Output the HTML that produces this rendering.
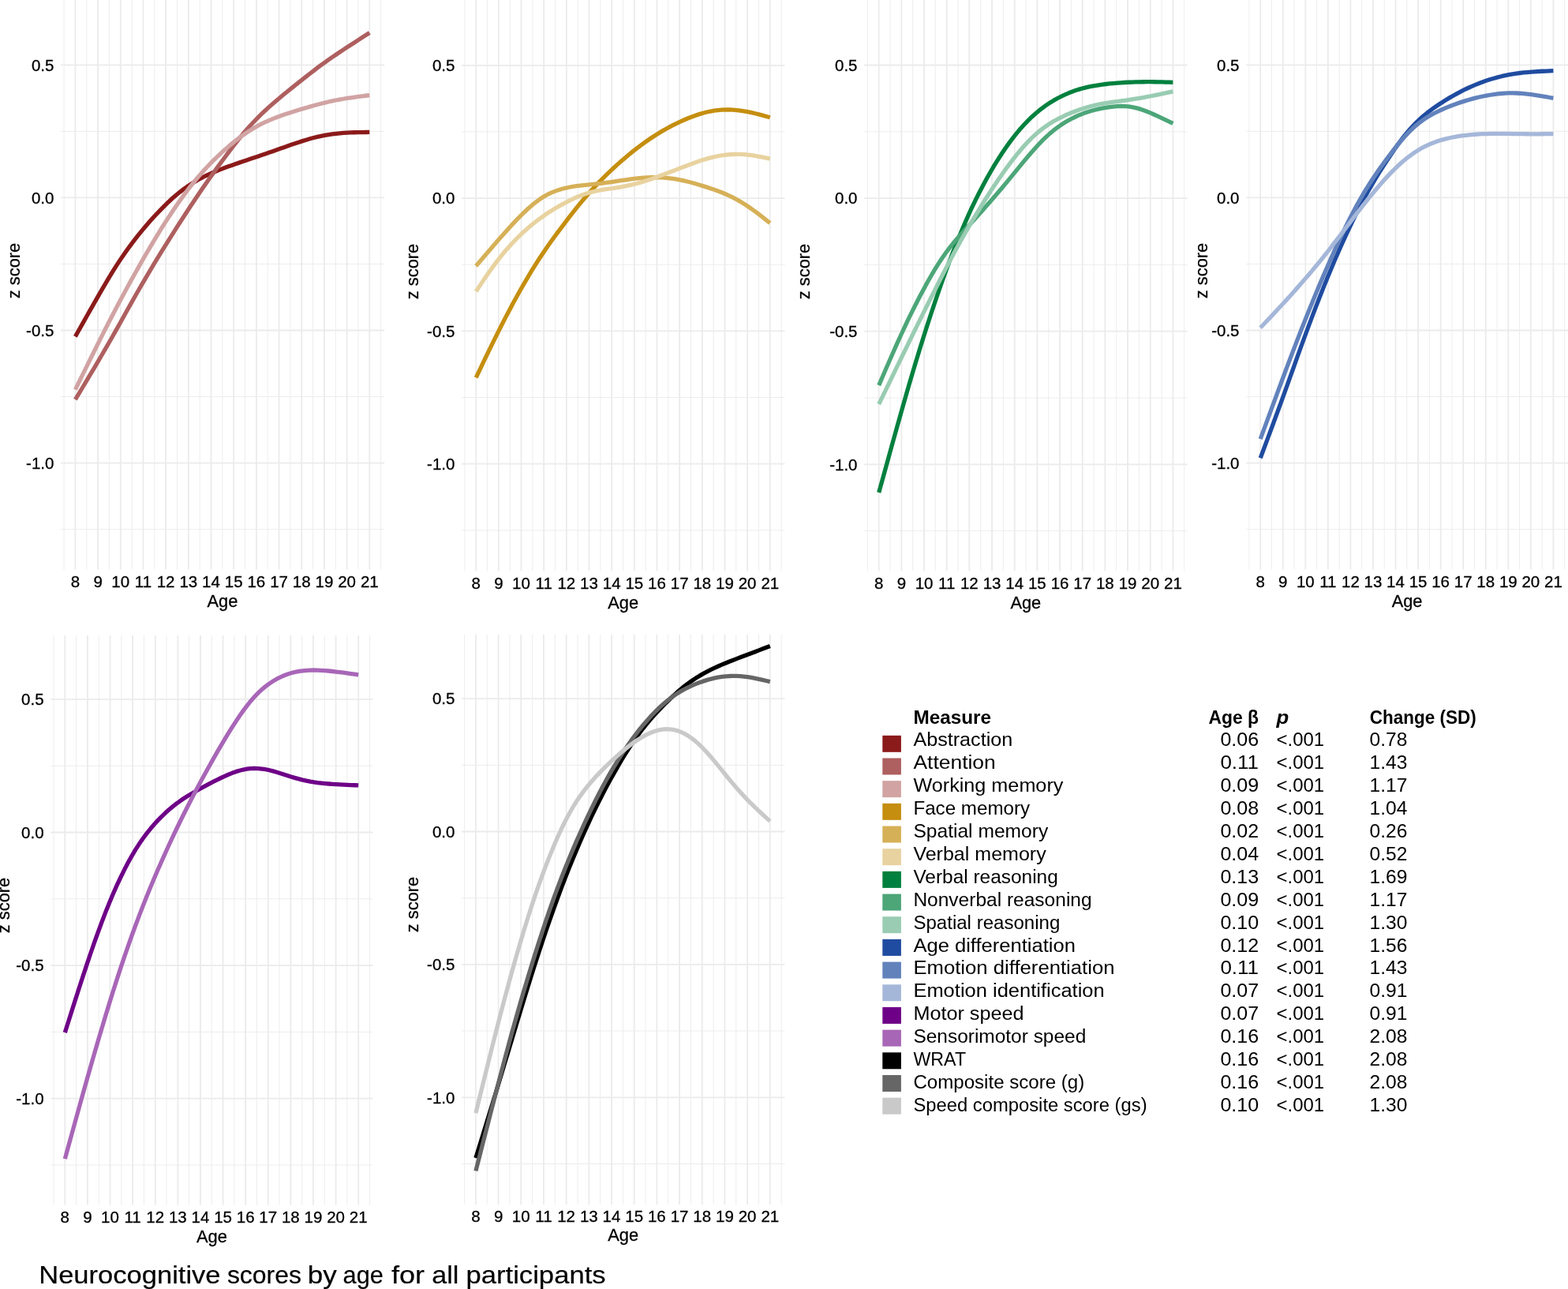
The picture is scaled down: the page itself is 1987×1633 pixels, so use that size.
<!DOCTYPE html>
<html lang="en"><head><meta charset="utf-8"><title>Neurocognitive scores by age for all participants</title>
<style>html,body{margin:0;padding:0;background:#fff}body{width:1987px;height:1633px;overflow:hidden}svg{display:block}text{font-family:'Liberation Sans', Arial, Helvetica, sans-serif;fill:#000}.tk{font-size:20.5px;stroke:#000;stroke-width:.3px}.ti{font-size:21.8px;stroke:#000;stroke-width:.3px}.gM{stroke:#EBEBEB;stroke-width:1.8;fill:none}.gm{stroke:#EBEBEB;stroke-width:0.9;fill:none}.cv{fill:none;stroke-width:5.3;stroke-linejoin:round;stroke-linecap:butt}.lg{font-size:24.2px}.lgb{font-size:24.2px;font-weight:bold}.cap{font-size:31.6px;stroke:#000;stroke-width:.2px}</style></head><body>
<svg xmlns="http://www.w3.org/2000/svg" width="1987" height="1633" viewBox="0 0 1987 1633">
<rect x="0" y="0" width="1987" height="1633" fill="#fff"/>
<g id="p1">
<path class="gm" d="M81.06,0 V721.5 M109.74,0 V721.5 M138.43,0 V721.5 M167.11,0 V721.5 M195.8,0 V721.5 M224.48,0 V721.5 M253.17,0 V721.5 M281.85,0 V721.5 M310.53,0 V721.5 M339.22,0 V721.5 M367.9,0 V721.5 M396.59,0 V721.5 M425.27,0 V721.5 M453.96,0 V721.5 M482.64,0 V721.5 M77,166.35 H487.2 M77,334.45 H487.2 M77,502.55 H487.2 M77,670.65 H487.2"/>
<path class="gM" d="M95.4,0 V721.5 M124.08,0 V721.5 M152.77,0 V721.5 M181.45,0 V721.5 M210.14,0 V721.5 M238.82,0 V721.5 M267.51,0 V721.5 M296.19,0 V721.5 M324.88,0 V721.5 M353.56,0 V721.5 M382.25,0 V721.5 M410.93,0 V721.5 M439.62,0 V721.5 M468.3,0 V721.5 M77,82.3 H487.2 M77,250.4 H487.2 M77,418.5 H487.2 M77,586.6 H487.2"/>
<path class="cv" stroke="#8B1A1A" d="M95.4,426.41 L100.12,418.01 L104.84,409.62 L109.56,401.25 L114.28,392.91 L119,384.6 L123.72,376.35 L128.44,368.17 L133.16,360.09 L137.88,352.16 L142.6,344.42 L147.32,336.9 L152.04,329.66 L156.76,322.7 L161.48,316 L166.2,309.56 L170.92,303.35 L175.64,297.36 L180.36,291.57 L185.08,285.99 L189.81,280.59 L194.53,275.35 L199.25,270.25 L203.97,265.3 L208.69,260.52 L213.41,255.93 L218.13,251.57 L222.85,247.44 L227.57,243.56 L232.29,239.93 L237.01,236.53 L241.73,233.36 L246.45,230.4 L251.17,227.66 L255.89,225.11 L260.61,222.75 L265.33,220.55 L270.05,218.47 L274.77,216.49 L279.49,214.6 L284.21,212.8 L288.93,211.06 L293.65,209.38 L298.37,207.73 L303.09,206.12 L307.81,204.53 L312.53,202.95 L317.25,201.36 L321.97,199.77 L326.69,198.17 L331.41,196.56 L336.13,194.94 L340.85,193.3 L345.57,191.64 L350.29,189.98 L355.01,188.31 L359.73,186.64 L364.45,184.98 L369.17,183.34 L373.89,181.72 L378.62,180.15 L383.34,178.63 L388.06,177.18 L392.78,175.81 L397.5,174.54 L402.22,173.39 L406.94,172.36 L411.66,171.45 L416.38,170.64 L421.1,169.94 L425.82,169.35 L430.54,168.86 L435.26,168.47 L439.98,168.15 L444.7,167.92 L449.42,167.74 L454.14,167.62 L458.86,167.54 L463.58,167.49 L468.3,167.45"/>
<path class="cv" stroke="#AE5F5F" d="M95.4,506.23 L100.12,498.38 L104.84,490.51 L109.56,482.63 L114.28,474.72 L119,466.78 L123.72,458.79 L128.44,450.75 L133.16,442.66 L137.88,434.49 L142.6,426.24 L147.32,417.91 L152.04,409.49 L156.76,401.01 L161.48,392.53 L166.2,384.09 L170.92,375.74 L175.64,367.49 L180.36,359.34 L185.08,351.29 L189.81,343.33 L194.53,335.47 L199.25,327.69 L203.97,319.99 L208.69,312.36 L213.41,304.81 L218.13,297.32 L222.85,289.89 L227.57,282.53 L232.29,275.23 L237.01,267.98 L241.73,260.79 L246.45,253.68 L251.17,246.67 L255.89,239.76 L260.61,232.96 L265.33,226.25 L270.05,219.62 L274.77,213.07 L279.49,206.6 L284.21,200.2 L288.93,193.87 L293.65,187.63 L298.37,181.51 L303.09,175.55 L307.81,169.79 L312.53,164.27 L317.25,158.99 L321.97,153.94 L326.69,149.1 L331.41,144.44 L336.13,139.97 L340.85,135.64 L345.57,131.46 L350.29,127.4 L355.01,123.43 L359.73,119.54 L364.45,115.7 L369.17,111.91 L373.89,108.15 L378.62,104.41 L383.34,100.68 L388.06,96.95 L392.78,93.24 L397.5,89.57 L402.22,85.97 L406.94,82.45 L411.66,79.03 L416.38,75.69 L421.1,72.42 L425.82,69.21 L430.54,66.03 L435.26,62.9 L439.98,59.79 L444.7,56.72 L449.42,53.66 L454.14,50.63 L458.86,47.6 L463.58,44.59 L468.3,41.58"/>
<path class="cv" stroke="#D1A3A3" d="M95.4,493.66 L100.12,484.03 L104.84,474.42 L109.56,464.82 L114.28,455.26 L119,445.75 L123.72,436.28 L128.44,426.89 L133.16,417.57 L137.88,408.33 L142.6,399.19 L147.32,390.15 L152.04,381.22 L156.76,372.4 L161.48,363.71 L166.2,355.14 L170.92,346.68 L175.64,338.33 L180.36,330.06 L185.08,321.9 L189.81,313.85 L194.53,305.91 L199.25,298.11 L203.97,290.45 L208.69,282.94 L213.41,275.6 L218.13,268.44 L222.85,261.46 L227.57,254.69 L232.29,248.13 L237.01,241.78 L241.73,235.66 L246.45,229.78 L251.17,224.13 L255.89,218.71 L260.61,213.51 L265.33,208.52 L270.05,203.71 L274.77,199.07 L279.49,194.59 L284.21,190.27 L288.93,186.12 L293.65,182.13 L298.37,178.31 L303.09,174.67 L307.81,171.23 L312.53,167.97 L317.25,164.92 L321.97,162.07 L326.69,159.42 L331.41,156.97 L336.13,154.7 L340.85,152.58 L345.57,150.61 L350.29,148.75 L355.01,147 L359.73,145.33 L364.45,143.74 L369.17,142.2 L373.89,140.72 L378.62,139.28 L383.34,137.87 L388.06,136.49 L392.78,135.13 L397.5,133.8 L402.22,132.52 L406.94,131.29 L411.66,130.11 L416.38,129 L421.1,127.95 L425.82,126.97 L430.54,126.08 L435.26,125.25 L439.98,124.48 L444.7,123.77 L449.42,123.09 L454.14,122.46 L458.86,121.85 L463.58,121.25 L468.3,120.67"/>
<text class="tk" x="95.4" y="744.2" text-anchor="middle">8</text>
<text class="tk" x="124.08" y="744.2" text-anchor="middle">9</text>
<text class="tk" x="152.77" y="744.2" text-anchor="middle">10</text>
<text class="tk" x="181.45" y="744.2" text-anchor="middle">11</text>
<text class="tk" x="210.14" y="744.2" text-anchor="middle">12</text>
<text class="tk" x="238.82" y="744.2" text-anchor="middle">13</text>
<text class="tk" x="267.51" y="744.2" text-anchor="middle">14</text>
<text class="tk" x="296.19" y="744.2" text-anchor="middle">15</text>
<text class="tk" x="324.88" y="744.2" text-anchor="middle">16</text>
<text class="tk" x="353.56" y="744.2" text-anchor="middle">17</text>
<text class="tk" x="382.25" y="744.2" text-anchor="middle">18</text>
<text class="tk" x="410.93" y="744.2" text-anchor="middle">19</text>
<text class="tk" x="439.62" y="744.2" text-anchor="middle">20</text>
<text class="tk" x="468.3" y="744.2" text-anchor="middle">21</text>
<text class="tk" x="68.4" y="89.6" text-anchor="end">0.5</text>
<text class="tk" x="68.4" y="257.7" text-anchor="end">0.0</text>
<text class="tk" x="68.4" y="425.8" text-anchor="end">-0.5</text>
<text class="tk" x="68.4" y="593.9" text-anchor="end">-1.0</text>
<text class="ti" x="281.97" y="768.7" text-anchor="middle">Age</text>
<text class="ti" transform="translate(24.5,343) rotate(-90)" text-anchor="middle">z score</text>
</g>
<g id="p2">
<path class="gm" d="M588.87,0 V723.5 M617.53,0 V723.5 M646.19,0 V723.5 M674.85,0 V723.5 M703.52,0 V723.5 M732.18,0 V723.5 M760.84,0 V723.5 M789.5,0 V723.5 M818.16,0 V723.5 M846.82,0 V723.5 M875.48,0 V723.5 M904.15,0 V723.5 M932.81,0 V723.5 M961.47,0 V723.5 M990.13,0 V723.5 M585,166.95 H994.5 M585,335.25 H994.5 M585,503.55 H994.5 M585,671.85 H994.5"/>
<path class="gM" d="M603.2,0 V723.5 M631.86,0 V723.5 M660.52,0 V723.5 M689.18,0 V723.5 M717.85,0 V723.5 M746.51,0 V723.5 M775.17,0 V723.5 M803.83,0 V723.5 M832.49,0 V723.5 M861.15,0 V723.5 M889.82,0 V723.5 M918.48,0 V723.5 M947.14,0 V723.5 M975.8,0 V723.5 M585,82.8 H994.5 M585,251.1 H994.5 M585,419.4 H994.5 M585,587.7 H994.5"/>
<path class="cv" stroke="#C58E0F" d="M603.2,478.4 L607.92,468.53 L612.63,458.68 L617.35,448.89 L622.07,439.18 L626.78,429.57 L631.5,420.1 L636.22,410.78 L640.93,401.63 L645.65,392.65 L650.36,383.84 L655.08,375.23 L659.8,366.8 L664.51,358.57 L669.23,350.55 L673.95,342.74 L678.66,335.15 L683.38,327.8 L688.1,320.67 L692.81,313.75 L697.53,307.04 L702.25,300.49 L706.96,294.09 L711.68,287.8 L716.39,281.6 L721.11,275.47 L725.83,269.41 L730.54,263.45 L735.26,257.63 L739.98,251.97 L744.69,246.5 L749.41,241.22 L754.13,236.11 L758.84,231.15 L763.56,226.35 L768.28,221.68 L772.99,217.15 L777.71,212.72 L782.43,208.41 L787.14,204.22 L791.86,200.14 L796.57,196.18 L801.29,192.34 L806.01,188.63 L810.72,185.05 L815.44,181.59 L820.16,178.24 L824.87,175.02 L829.59,171.92 L834.31,168.95 L839.02,166.12 L843.74,163.43 L848.46,160.87 L853.17,158.44 L857.89,156.12 L862.61,153.9 L867.32,151.78 L872.04,149.79 L876.75,147.92 L881.47,146.19 L886.19,144.63 L890.9,143.24 L895.62,142.03 L900.34,141.02 L905.05,140.21 L909.77,139.6 L914.49,139.2 L919.2,139.01 L923.92,139.01 L928.64,139.2 L933.35,139.57 L938.07,140.11 L942.78,140.8 L947.5,141.64 L952.22,142.62 L956.93,143.71 L961.65,144.89 L966.37,146.15 L971.08,147.47 L975.8,148.8"/>
<path class="cv" stroke="#D6B057" d="M603.2,336.97 L607.92,331.45 L612.63,325.93 L617.35,320.43 L622.07,314.95 L626.78,309.5 L631.5,304.09 L636.22,298.73 L640.93,293.43 L645.65,288.22 L650.36,283.12 L655.08,278.16 L659.8,273.34 L664.51,268.71 L669.23,264.3 L673.95,260.14 L678.66,256.29 L683.38,252.78 L688.1,249.67 L692.81,246.96 L697.53,244.62 L702.25,242.63 L706.96,240.93 L711.68,239.5 L716.39,238.29 L721.11,237.26 L725.83,236.39 L730.54,235.67 L735.26,235.06 L739.98,234.53 L744.69,234.05 L749.41,233.58 L754.13,233.11 L758.84,232.6 L763.56,232.06 L768.28,231.47 L772.99,230.85 L777.71,230.18 L782.43,229.47 L787.14,228.74 L791.86,228.02 L796.57,227.33 L801.29,226.68 L806.01,226.11 L810.72,225.62 L815.44,225.22 L820.16,224.92 L824.87,224.74 L829.59,224.68 L834.31,224.75 L839.02,224.96 L843.74,225.31 L848.46,225.79 L853.17,226.41 L857.89,227.17 L862.61,228.07 L867.32,229.1 L872.04,230.24 L876.75,231.49 L881.47,232.81 L886.19,234.2 L890.9,235.64 L895.62,237.13 L900.34,238.67 L905.05,240.28 L909.77,241.99 L914.49,243.82 L919.2,245.77 L923.92,247.88 L928.64,250.16 L933.35,252.64 L938.07,255.34 L942.78,258.23 L947.5,261.3 L952.22,264.54 L956.93,267.93 L961.65,271.46 L966.37,275.11 L971.08,278.85 L975.8,282.64"/>
<path class="cv" stroke="#E8D29F" d="M603.2,369.25 L607.92,362.15 L612.63,355.12 L617.35,348.22 L622.07,341.52 L626.78,335.07 L631.5,328.88 L636.22,322.96 L640.93,317.31 L645.65,311.93 L650.36,306.8 L655.08,301.92 L659.8,297.29 L664.51,292.89 L669.23,288.72 L673.95,284.75 L678.66,280.99 L683.38,277.42 L688.1,274.03 L692.81,270.8 L697.53,267.73 L702.25,264.81 L706.96,262.03 L711.68,259.37 L716.39,256.82 L721.11,254.39 L725.83,252.08 L730.54,249.95 L735.26,248.01 L739.98,246.26 L744.69,244.72 L749.41,243.37 L754.13,242.22 L758.84,241.26 L763.56,240.43 L768.28,239.69 L772.99,239 L777.71,238.3 L782.43,237.57 L787.14,236.77 L791.86,235.91 L796.57,234.96 L801.29,233.9 L806.01,232.72 L810.72,231.41 L815.44,229.99 L820.16,228.48 L824.87,226.89 L829.59,225.24 L834.31,223.54 L839.02,221.8 L843.74,220.03 L848.46,218.24 L853.17,216.43 L857.89,214.61 L862.61,212.78 L867.32,210.96 L872.04,209.17 L876.75,207.42 L881.47,205.72 L886.19,204.11 L890.9,202.59 L895.62,201.18 L900.34,199.9 L905.05,198.75 L909.77,197.75 L914.49,196.92 L919.2,196.25 L923.92,195.77 L928.64,195.48 L933.35,195.37 L938.07,195.45 L942.78,195.71 L947.5,196.15 L952.22,196.74 L956.93,197.46 L961.65,198.3 L966.37,199.22 L971.08,200.19 L975.8,201.2"/>
<text class="tk" x="603.2" y="746.1" text-anchor="middle">8</text>
<text class="tk" x="631.86" y="746.1" text-anchor="middle">9</text>
<text class="tk" x="660.52" y="746.1" text-anchor="middle">10</text>
<text class="tk" x="689.18" y="746.1" text-anchor="middle">11</text>
<text class="tk" x="717.85" y="746.1" text-anchor="middle">12</text>
<text class="tk" x="746.51" y="746.1" text-anchor="middle">13</text>
<text class="tk" x="775.17" y="746.1" text-anchor="middle">14</text>
<text class="tk" x="803.83" y="746.1" text-anchor="middle">15</text>
<text class="tk" x="832.49" y="746.1" text-anchor="middle">16</text>
<text class="tk" x="861.15" y="746.1" text-anchor="middle">17</text>
<text class="tk" x="889.82" y="746.1" text-anchor="middle">18</text>
<text class="tk" x="918.48" y="746.1" text-anchor="middle">19</text>
<text class="tk" x="947.14" y="746.1" text-anchor="middle">20</text>
<text class="tk" x="975.8" y="746.1" text-anchor="middle">21</text>
<text class="tk" x="576.4" y="90.1" text-anchor="end">0.5</text>
<text class="tk" x="576.4" y="258.4" text-anchor="end">0.0</text>
<text class="tk" x="576.4" y="426.7" text-anchor="end">-0.5</text>
<text class="tk" x="576.4" y="595" text-anchor="end">-1.0</text>
<text class="ti" x="789.71" y="770.8" text-anchor="middle">Age</text>
<text class="ti" transform="translate(530,344) rotate(-90)" text-anchor="middle">z score</text>
</g>
<g id="p3">
<path class="gm" d="M1099.37,0 V723.5 M1128.03,0 V723.5 M1156.7,0 V723.5 M1185.37,0 V723.5 M1214.04,0 V723.5 M1242.71,0 V723.5 M1271.38,0 V723.5 M1300.05,0 V723.5 M1328.72,0 V723.5 M1357.39,0 V723.5 M1386.06,0 V723.5 M1414.73,0 V723.5 M1443.4,0 V723.5 M1472.07,0 V723.5 M1500.73,0 V723.5 M1095.1,166.8 H1504.6 M1095.1,335.4 H1504.6 M1095.1,504 H1504.6 M1095.1,672.6 H1504.6"/>
<path class="gM" d="M1113.7,0 V723.5 M1142.37,0 V723.5 M1171.04,0 V723.5 M1199.71,0 V723.5 M1228.38,0 V723.5 M1257.05,0 V723.5 M1285.72,0 V723.5 M1314.38,0 V723.5 M1343.05,0 V723.5 M1371.72,0 V723.5 M1400.39,0 V723.5 M1429.06,0 V723.5 M1457.73,0 V723.5 M1486.4,0 V723.5 M1095.1,82.5 H1504.6 M1095.1,251.1 H1504.6 M1095.1,419.7 H1504.6 M1095.1,588.3 H1504.6"/>
<path class="cv" stroke="#00803E" d="M1113.7,624 L1118.42,606.96 L1123.14,589.93 L1127.85,572.89 L1132.57,555.89 L1137.29,538.99 L1142.01,522.23 L1146.72,505.66 L1151.44,489.33 L1156.16,473.28 L1160.88,457.52 L1165.59,442.07 L1170.31,426.94 L1175.03,412.15 L1179.75,397.71 L1184.47,383.61 L1189.18,369.84 L1193.9,356.4 L1198.62,343.3 L1203.34,330.59 L1208.05,318.28 L1212.77,306.39 L1217.49,294.91 L1222.21,283.84 L1226.93,273.19 L1231.64,262.95 L1236.36,253.13 L1241.08,243.72 L1245.8,234.71 L1250.51,226.05 L1255.23,217.72 L1259.95,209.72 L1264.67,202.06 L1269.38,194.73 L1274.1,187.74 L1278.82,181.1 L1283.54,174.79 L1288.26,168.84 L1292.97,163.23 L1297.69,157.97 L1302.41,153.05 L1307.13,148.45 L1311.84,144.17 L1316.56,140.2 L1321.28,136.54 L1326,133.15 L1330.72,130.03 L1335.43,127.15 L1340.15,124.51 L1344.87,122.08 L1349.59,119.86 L1354.3,117.83 L1359.02,115.99 L1363.74,114.34 L1368.46,112.86 L1373.17,111.56 L1377.89,110.41 L1382.61,109.41 L1387.33,108.54 L1392.05,107.77 L1396.76,107.1 L1401.48,106.5 L1406.2,105.98 L1410.92,105.53 L1415.63,105.13 L1420.35,104.8 L1425.07,104.51 L1429.79,104.27 L1434.51,104.08 L1439.22,103.93 L1443.94,103.82 L1448.66,103.74 L1453.38,103.71 L1458.09,103.71 L1462.81,103.75 L1467.53,103.82 L1472.25,103.91 L1476.96,104.03 L1481.68,104.15 L1486.4,104.28"/>
<path class="cv" stroke="#4CA678" d="M1113.7,488.16 L1118.42,477.2 L1123.14,466.28 L1127.85,455.44 L1132.57,444.72 L1137.29,434.15 L1142.01,423.77 L1146.72,413.63 L1151.44,403.73 L1156.16,394.09 L1160.88,384.69 L1165.59,375.55 L1170.31,366.67 L1175.03,358.06 L1179.75,349.72 L1184.47,341.72 L1189.18,334.11 L1193.9,326.95 L1198.62,320.23 L1203.34,313.95 L1208.05,308.04 L1212.77,302.44 L1217.49,297.06 L1222.21,291.83 L1226.93,286.66 L1231.64,281.48 L1236.36,276.26 L1241.08,271 L1245.8,265.69 L1250.51,260.35 L1255.23,254.95 L1259.95,249.51 L1264.67,244.02 L1269.38,238.47 L1274.1,232.86 L1278.82,227.17 L1283.54,221.43 L1288.26,215.65 L1292.97,209.88 L1297.69,204.17 L1302.41,198.54 L1307.13,193.04 L1311.84,187.71 L1316.56,182.58 L1321.28,177.71 L1326,173.12 L1330.72,168.87 L1335.43,164.96 L1340.15,161.37 L1344.87,158.08 L1349.59,155.06 L1354.3,152.29 L1359.02,149.78 L1363.74,147.5 L1368.46,145.44 L1373.17,143.61 L1377.89,141.98 L1382.61,140.54 L1387.33,139.27 L1392.05,138.15 L1396.76,137.17 L1401.48,136.31 L1406.2,135.59 L1410.92,135.02 L1415.63,134.64 L1420.35,134.48 L1425.07,134.58 L1429.79,134.97 L1434.51,135.65 L1439.22,136.61 L1443.94,137.87 L1448.66,139.41 L1453.38,141.18 L1458.09,143.13 L1462.81,145.22 L1467.53,147.4 L1472.25,149.64 L1476.96,151.9 L1481.68,154.18 L1486.4,156.47"/>
<path class="cv" stroke="#99CCB2" d="M1113.7,512.02 L1118.42,502.32 L1123.14,492.62 L1127.85,482.9 L1132.57,473.18 L1137.29,463.46 L1142.01,453.75 L1146.72,444.06 L1151.44,434.39 L1156.16,424.75 L1160.88,415.15 L1165.59,405.59 L1170.31,396.08 L1175.03,386.61 L1179.75,377.2 L1184.47,367.83 L1189.18,358.51 L1193.9,349.26 L1198.62,340.11 L1203.34,331.11 L1208.05,322.27 L1212.77,313.59 L1217.49,305.07 L1222.21,296.71 L1226.93,288.5 L1231.64,280.45 L1236.36,272.55 L1241.08,264.8 L1245.8,257.2 L1250.51,249.74 L1255.23,242.43 L1259.95,235.28 L1264.67,228.28 L1269.38,221.45 L1274.1,214.8 L1278.82,208.35 L1283.54,202.13 L1288.26,196.16 L1292.97,190.45 L1297.69,185.02 L1302.41,179.9 L1307.13,175.11 L1311.84,170.66 L1316.56,166.58 L1321.28,162.86 L1326,159.48 L1330.72,156.39 L1335.43,153.55 L1340.15,150.95 L1344.87,148.53 L1349.59,146.28 L1354.3,144.18 L1359.02,142.23 L1363.74,140.42 L1368.46,138.75 L1373.17,137.21 L1377.89,135.8 L1382.61,134.5 L1387.33,133.33 L1392.05,132.28 L1396.76,131.34 L1401.48,130.52 L1406.2,129.8 L1410.92,129.14 L1415.63,128.53 L1420.35,127.93 L1425.07,127.32 L1429.79,126.67 L1434.51,125.97 L1439.22,125.21 L1443.94,124.41 L1448.66,123.56 L1453.38,122.67 L1458.09,121.75 L1462.81,120.8 L1467.53,119.83 L1472.25,118.84 L1476.96,117.84 L1481.68,116.83 L1486.4,115.82"/>
<text class="tk" x="1113.7" y="746.1" text-anchor="middle">8</text>
<text class="tk" x="1142.37" y="746.1" text-anchor="middle">9</text>
<text class="tk" x="1171.04" y="746.1" text-anchor="middle">10</text>
<text class="tk" x="1199.71" y="746.1" text-anchor="middle">11</text>
<text class="tk" x="1228.38" y="746.1" text-anchor="middle">12</text>
<text class="tk" x="1257.05" y="746.1" text-anchor="middle">13</text>
<text class="tk" x="1285.72" y="746.1" text-anchor="middle">14</text>
<text class="tk" x="1314.38" y="746.1" text-anchor="middle">15</text>
<text class="tk" x="1343.05" y="746.1" text-anchor="middle">16</text>
<text class="tk" x="1371.72" y="746.1" text-anchor="middle">17</text>
<text class="tk" x="1400.39" y="746.1" text-anchor="middle">18</text>
<text class="tk" x="1429.06" y="746.1" text-anchor="middle">19</text>
<text class="tk" x="1457.73" y="746.1" text-anchor="middle">20</text>
<text class="tk" x="1486.4" y="746.1" text-anchor="middle">21</text>
<text class="tk" x="1086.5" y="89.8" text-anchor="end">0.5</text>
<text class="tk" x="1086.5" y="258.4" text-anchor="end">0.0</text>
<text class="tk" x="1086.5" y="427" text-anchor="end">-0.5</text>
<text class="tk" x="1086.5" y="595.6" text-anchor="end">-1.0</text>
<text class="ti" x="1299.85" y="770.8" text-anchor="middle">Age</text>
<text class="ti" transform="translate(1026,344) rotate(-90)" text-anchor="middle">z score</text>
</g>
<g id="p4">
<path class="gm" d="M1582.92,0 V721.5 M1611.48,0 V721.5 M1640.03,0 V721.5 M1668.58,0 V721.5 M1697.14,0 V721.5 M1725.69,0 V721.5 M1754.25,0 V721.5 M1782.8,0 V721.5 M1811.35,0 V721.5 M1839.91,0 V721.5 M1868.46,0 V721.5 M1897.02,0 V721.5 M1925.57,0 V721.5 M1954.12,0 V721.5 M1982.68,0 V721.5 M1579.1,166.35 H1990 M1579.1,334.45 H1990 M1579.1,502.55 H1990 M1579.1,670.65 H1990"/>
<path class="gM" d="M1597.2,0 V721.5 M1625.75,0 V721.5 M1654.31,0 V721.5 M1682.86,0 V721.5 M1711.42,0 V721.5 M1739.97,0 V721.5 M1768.52,0 V721.5 M1797.08,0 V721.5 M1825.63,0 V721.5 M1854.18,0 V721.5 M1882.74,0 V721.5 M1911.29,0 V721.5 M1939.85,0 V721.5 M1968.4,0 V721.5 M1579.1,82.3 H1990 M1579.1,250.4 H1990 M1579.1,418.5 H1990 M1579.1,586.6 H1990"/>
<path class="cv" stroke="#1F4CA0" d="M1597.2,580.28 L1601.9,567.72 L1606.6,555.13 L1611.3,542.49 L1615.99,529.79 L1620.69,517 L1625.39,504.1 L1630.09,491.07 L1634.79,477.95 L1639.49,464.8 L1644.19,451.69 L1648.89,438.68 L1653.58,425.81 L1658.28,413.1 L1662.98,400.6 L1667.68,388.31 L1672.38,376.23 L1677.08,364.38 L1681.78,352.77 L1686.48,341.4 L1691.17,330.29 L1695.87,319.43 L1700.57,308.85 L1705.27,298.55 L1709.97,288.52 L1714.67,278.78 L1719.37,269.34 L1724.07,260.2 L1728.76,251.36 L1733.46,242.83 L1738.16,234.6 L1742.86,226.64 L1747.56,218.94 L1752.26,211.47 L1756.96,204.22 L1761.66,197.17 L1766.35,190.3 L1771.05,183.63 L1775.75,177.22 L1780.45,171.15 L1785.15,165.49 L1789.85,160.25 L1794.55,155.41 L1799.25,150.93 L1803.94,146.79 L1808.64,142.94 L1813.34,139.34 L1818.04,135.96 L1822.74,132.74 L1827.44,129.67 L1832.14,126.72 L1836.84,123.88 L1841.53,121.17 L1846.23,118.57 L1850.93,116.09 L1855.63,113.73 L1860.33,111.49 L1865.03,109.36 L1869.73,107.36 L1874.43,105.47 L1879.12,103.71 L1883.82,102.08 L1888.52,100.57 L1893.22,99.17 L1897.92,97.88 L1902.62,96.7 L1907.32,95.63 L1912.02,94.67 L1916.71,93.84 L1921.41,93.12 L1926.11,92.5 L1930.81,91.97 L1935.51,91.52 L1940.21,91.13 L1944.91,90.8 L1949.61,90.52 L1954.3,90.27 L1959,90.05 L1963.7,89.85 L1968.4,89.67"/>
<path class="cv" stroke="#6282BC" d="M1597.2,556.17 L1601.9,543.38 L1606.6,530.61 L1611.3,517.84 L1615.99,505.1 L1620.69,492.39 L1625.39,479.73 L1630.09,467.15 L1634.79,454.68 L1639.49,442.32 L1644.19,430.11 L1648.89,418.06 L1653.58,406.17 L1658.28,394.46 L1662.98,382.92 L1667.68,371.55 L1672.38,360.36 L1677.08,349.35 L1681.78,338.51 L1686.48,327.86 L1691.17,317.4 L1695.87,307.15 L1700.57,297.15 L1705.27,287.41 L1709.97,277.98 L1714.67,268.86 L1719.37,260.09 L1724.07,251.69 L1728.76,243.68 L1733.46,236.03 L1738.16,228.7 L1742.86,221.66 L1747.56,214.86 L1752.26,208.26 L1756.96,201.84 L1761.66,195.57 L1766.35,189.47 L1771.05,183.59 L1775.75,177.97 L1780.45,172.64 L1785.15,167.66 L1789.85,163.05 L1794.55,158.85 L1799.25,155.05 L1803.94,151.64 L1808.64,148.57 L1813.34,145.79 L1818.04,143.25 L1822.74,140.92 L1827.44,138.73 L1832.14,136.68 L1836.84,134.75 L1841.53,132.94 L1846.23,131.24 L1850.93,129.63 L1855.63,128.13 L1860.33,126.71 L1865.03,125.38 L1869.73,124.15 L1874.43,123.02 L1879.12,121.99 L1883.82,121.07 L1888.52,120.25 L1893.22,119.55 L1897.92,118.96 L1902.62,118.49 L1907.32,118.15 L1912.02,117.95 L1916.71,117.89 L1921.41,117.99 L1926.11,118.23 L1930.81,118.59 L1935.51,119.08 L1940.21,119.66 L1944.91,120.33 L1949.61,121.06 L1954.3,121.85 L1959,122.67 L1963.7,123.51 L1968.4,124.36"/>
<path class="cv" stroke="#A5B7D9" d="M1597.2,415.23 L1601.9,410.28 L1606.6,405.32 L1611.3,400.34 L1615.99,395.34 L1620.69,390.3 L1625.39,385.22 L1630.09,380.09 L1634.79,374.91 L1639.49,369.67 L1644.19,364.38 L1648.89,359.03 L1653.58,353.63 L1658.28,348.16 L1662.98,342.63 L1667.68,337.02 L1672.38,331.31 L1677.08,325.5 L1681.78,319.58 L1686.48,313.57 L1691.17,307.49 L1695.87,301.35 L1700.57,295.17 L1705.27,288.98 L1709.97,282.79 L1714.67,276.62 L1719.37,270.48 L1724.07,264.4 L1728.76,258.39 L1733.46,252.47 L1738.16,246.67 L1742.86,240.99 L1747.56,235.45 L1752.26,230.08 L1756.96,224.89 L1761.66,219.9 L1766.35,215.12 L1771.05,210.58 L1775.75,206.28 L1780.45,202.25 L1785.15,198.51 L1789.85,195.05 L1794.55,191.9 L1799.25,189.03 L1803.94,186.44 L1808.64,184.11 L1813.34,182.02 L1818.04,180.17 L1822.74,178.53 L1827.44,177.1 L1832.14,175.83 L1836.84,174.73 L1841.53,173.77 L1846.23,172.93 L1850.93,172.22 L1855.63,171.6 L1860.33,171.07 L1865.03,170.62 L1869.73,170.25 L1874.43,169.95 L1879.12,169.72 L1883.82,169.55 L1888.52,169.45 L1893.22,169.39 L1897.92,169.37 L1902.62,169.38 L1907.32,169.41 L1912.02,169.47 L1916.71,169.53 L1921.41,169.6 L1926.11,169.66 L1930.81,169.72 L1935.51,169.76 L1940.21,169.79 L1944.91,169.8 L1949.61,169.78 L1954.3,169.75 L1959,169.71 L1963.7,169.67 L1968.4,169.61"/>
<text class="tk" x="1597.2" y="744.2" text-anchor="middle">8</text>
<text class="tk" x="1625.75" y="744.2" text-anchor="middle">9</text>
<text class="tk" x="1654.31" y="744.2" text-anchor="middle">10</text>
<text class="tk" x="1682.86" y="744.2" text-anchor="middle">11</text>
<text class="tk" x="1711.42" y="744.2" text-anchor="middle">12</text>
<text class="tk" x="1739.97" y="744.2" text-anchor="middle">13</text>
<text class="tk" x="1768.52" y="744.2" text-anchor="middle">14</text>
<text class="tk" x="1797.08" y="744.2" text-anchor="middle">15</text>
<text class="tk" x="1825.63" y="744.2" text-anchor="middle">16</text>
<text class="tk" x="1854.18" y="744.2" text-anchor="middle">17</text>
<text class="tk" x="1882.74" y="744.2" text-anchor="middle">18</text>
<text class="tk" x="1911.29" y="744.2" text-anchor="middle">19</text>
<text class="tk" x="1939.85" y="744.2" text-anchor="middle">20</text>
<text class="tk" x="1968.4" y="744.2" text-anchor="middle">21</text>
<text class="tk" x="1570.5" y="89.6" text-anchor="end">0.5</text>
<text class="tk" x="1570.5" y="257.7" text-anchor="end">0.0</text>
<text class="tk" x="1570.5" y="425.8" text-anchor="end">-0.5</text>
<text class="tk" x="1570.5" y="593.9" text-anchor="end">-1.0</text>
<text class="ti" x="1783.03" y="768.7" text-anchor="middle">Age</text>
<text class="ti" transform="translate(1530,343) rotate(-90)" text-anchor="middle">z score</text>
</g>
<g id="p5">
<path class="gm" d="M68,805.1 V1526.6 M96.6,805.1 V1526.6 M125.21,805.1 V1526.6 M153.82,805.1 V1526.6 M182.43,805.1 V1526.6 M211.03,805.1 V1526.6 M239.64,805.1 V1526.6 M268.25,805.1 V1526.6 M296.86,805.1 V1526.6 M325.47,805.1 V1526.6 M354.07,805.1 V1526.6 M382.68,805.1 V1526.6 M411.29,805.1 V1526.6 M439.9,805.1 V1526.6 M468.5,805.1 V1526.6 M64.2,970.2 H472.6 M64.2,1138.8 H472.6 M64.2,1307.4 H472.6 M64.2,1476 H472.6"/>
<path class="gM" d="M82.3,805.1 V1526.6 M110.91,805.1 V1526.6 M139.52,805.1 V1526.6 M168.12,805.1 V1526.6 M196.73,805.1 V1526.6 M225.34,805.1 V1526.6 M253.95,805.1 V1526.6 M282.55,805.1 V1526.6 M311.16,805.1 V1526.6 M339.77,805.1 V1526.6 M368.38,805.1 V1526.6 M396.98,805.1 V1526.6 M425.59,805.1 V1526.6 M454.2,805.1 V1526.6 M64.2,885.9 H472.6 M64.2,1054.5 H472.6 M64.2,1223.1 H472.6 M64.2,1391.7 H472.6"/>
<path class="cv" stroke="#6E0087" d="M82.3,1308.12 L87.01,1293.22 L91.72,1278.37 L96.42,1263.62 L101.13,1249.01 L105.84,1234.59 L110.55,1220.4 L115.25,1206.51 L119.96,1192.97 L124.67,1179.83 L129.38,1167.12 L134.08,1154.89 L138.79,1143.18 L143.5,1132.02 L148.21,1121.42 L152.91,1111.35 L157.62,1101.81 L162.33,1092.8 L167.04,1084.34 L171.74,1076.42 L176.45,1069.08 L181.16,1062.27 L185.87,1055.95 L190.57,1050.06 L195.28,1044.54 L199.99,1039.38 L204.7,1034.55 L209.41,1030.04 L214.11,1025.82 L218.82,1021.88 L223.53,1018.2 L228.24,1014.77 L232.94,1011.56 L237.65,1008.54 L242.36,1005.67 L247.07,1002.92 L251.77,1000.25 L256.48,997.65 L261.19,995.09 L265.9,992.59 L270.6,990.15 L275.31,987.78 L280.02,985.5 L284.73,983.31 L289.43,981.24 L294.14,979.34 L298.85,977.65 L303.56,976.21 L308.26,975.05 L312.97,974.2 L317.68,973.67 L322.39,973.47 L327.09,973.59 L331.8,974.02 L336.51,974.73 L341.22,975.7 L345.93,976.88 L350.63,978.23 L355.34,979.68 L360.05,981.2 L364.76,982.72 L369.46,984.21 L374.17,985.62 L378.88,986.92 L383.59,988.1 L388.29,989.15 L393,990.07 L397.71,990.86 L402.42,991.54 L407.12,992.11 L411.83,992.6 L416.54,993.01 L421.25,993.36 L425.95,993.66 L430.66,993.92 L435.37,994.14 L440.08,994.35 L444.78,994.54 L449.49,994.73 L454.2,994.91"/>
<path class="cv" stroke="#A866B7" d="M82.3,1468.11 L87.01,1451 L91.72,1433.91 L96.42,1416.87 L101.13,1399.91 L105.84,1383.05 L110.55,1366.32 L115.25,1349.76 L119.96,1333.41 L124.67,1317.28 L129.38,1301.39 L134.08,1285.76 L138.79,1270.39 L143.5,1255.33 L148.21,1240.59 L152.91,1226.19 L157.62,1212.17 L162.33,1198.53 L167.04,1185.26 L171.74,1172.37 L176.45,1159.83 L181.16,1147.64 L185.87,1135.78 L190.57,1124.24 L195.28,1113 L199.99,1102.03 L204.7,1091.31 L209.41,1080.81 L214.11,1070.52 L218.82,1060.4 L223.53,1050.49 L228.24,1040.78 L232.94,1031.27 L237.65,1021.94 L242.36,1012.79 L247.07,1003.8 L251.77,994.96 L256.48,986.26 L261.19,977.69 L265.9,969.24 L270.6,960.91 L275.31,952.69 L280.02,944.62 L284.73,936.69 L289.43,928.93 L294.14,921.38 L298.85,914.07 L303.56,907.04 L308.26,900.36 L312.97,894.06 L317.68,888.19 L322.39,882.81 L327.09,877.92 L331.8,873.53 L336.51,869.6 L341.22,866.09 L345.93,862.97 L350.63,860.22 L355.34,857.82 L360.05,855.75 L364.76,853.99 L369.46,852.54 L374.17,851.37 L378.88,850.47 L383.59,849.8 L388.29,849.35 L393,849.1 L397.71,849.02 L402.42,849.09 L407.12,849.29 L411.83,849.61 L416.54,850.01 L421.25,850.5 L425.95,851.04 L430.66,851.62 L435.37,852.24 L440.08,852.89 L444.78,853.55 L449.49,854.21 L454.2,854.88"/>
<text class="tk" x="82.3" y="1549.3" text-anchor="middle">8</text>
<text class="tk" x="110.91" y="1549.3" text-anchor="middle">9</text>
<text class="tk" x="139.52" y="1549.3" text-anchor="middle">10</text>
<text class="tk" x="168.12" y="1549.3" text-anchor="middle">11</text>
<text class="tk" x="196.73" y="1549.3" text-anchor="middle">12</text>
<text class="tk" x="225.34" y="1549.3" text-anchor="middle">13</text>
<text class="tk" x="253.95" y="1549.3" text-anchor="middle">14</text>
<text class="tk" x="282.55" y="1549.3" text-anchor="middle">15</text>
<text class="tk" x="311.16" y="1549.3" text-anchor="middle">16</text>
<text class="tk" x="339.77" y="1549.3" text-anchor="middle">17</text>
<text class="tk" x="368.38" y="1549.3" text-anchor="middle">18</text>
<text class="tk" x="396.98" y="1549.3" text-anchor="middle">19</text>
<text class="tk" x="425.59" y="1549.3" text-anchor="middle">20</text>
<text class="tk" x="454.2" y="1549.3" text-anchor="middle">21</text>
<text class="tk" x="55.6" y="893.2" text-anchor="end">0.5</text>
<text class="tk" x="55.6" y="1061.8" text-anchor="end">0.0</text>
<text class="tk" x="55.6" y="1230.4" text-anchor="end">-0.5</text>
<text class="tk" x="55.6" y="1399" text-anchor="end">-1.0</text>
<text class="ti" x="268.4" y="1574.2" text-anchor="middle">Age</text>
<text class="ti" transform="translate(11.5,1147) rotate(-90)" text-anchor="middle">z score</text>
</g>
<g id="p6">
<path class="gm" d="M588.56,803.8 V1525.9 M617.24,803.8 V1525.9 M645.93,803.8 V1525.9 M674.61,803.8 V1525.9 M703.3,803.8 V1525.9 M731.98,803.8 V1525.9 M760.67,803.8 V1525.9 M789.35,803.8 V1525.9 M818.03,803.8 V1525.9 M846.72,803.8 V1525.9 M875.4,803.8 V1525.9 M904.09,803.8 V1525.9 M932.77,803.8 V1525.9 M961.46,803.8 V1525.9 M990.14,803.8 V1525.9 M585,969.3 H994.5 M585,1137.7 H994.5 M585,1306.1 H994.5 M585,1474.5 H994.5"/>
<path class="gM" d="M602.9,803.8 V1525.9 M631.58,803.8 V1525.9 M660.27,803.8 V1525.9 M688.95,803.8 V1525.9 M717.64,803.8 V1525.9 M746.32,803.8 V1525.9 M775.01,803.8 V1525.9 M803.69,803.8 V1525.9 M832.38,803.8 V1525.9 M861.06,803.8 V1525.9 M889.75,803.8 V1525.9 M918.43,803.8 V1525.9 M947.12,803.8 V1525.9 M975.8,803.8 V1525.9 M585,885.1 H994.5 M585,1053.5 H994.5 M585,1221.9 H994.5 M585,1390.3 H994.5"/>
<path class="cv" stroke="#000000" d="M602.9,1467.07 L607.62,1451.77 L612.34,1436.45 L617.06,1421.11 L621.78,1405.7 L626.5,1390.23 L631.22,1374.67 L635.94,1359.04 L640.66,1343.35 L645.38,1327.64 L650.1,1311.94 L654.82,1296.27 L659.54,1280.69 L664.26,1265.23 L668.98,1249.92 L673.7,1234.83 L678.42,1219.98 L683.14,1205.42 L687.86,1191.16 L692.58,1177.2 L697.31,1163.56 L702.03,1150.24 L706.75,1137.27 L711.47,1124.64 L716.19,1112.35 L720.91,1100.39 L725.63,1088.76 L730.35,1077.46 L735.07,1066.46 L739.79,1055.76 L744.51,1045.36 L749.23,1035.25 L753.95,1025.43 L758.67,1015.89 L763.39,1006.62 L768.11,997.61 L772.83,988.85 L777.55,980.34 L782.27,972.07 L786.99,964.03 L791.71,956.23 L796.43,948.73 L801.15,941.55 L805.87,934.74 L810.59,928.31 L815.31,922.21 L820.03,916.41 L824.75,910.88 L829.47,905.58 L834.19,900.47 L838.91,895.53 L843.63,890.75 L848.35,886.12 L853.07,881.65 L857.79,877.34 L862.51,873.26 L867.23,869.43 L871.95,865.84 L876.67,862.48 L881.39,859.33 L886.12,856.38 L890.84,853.63 L895.56,851.06 L900.28,848.64 L905,846.37 L909.72,844.22 L914.44,842.17 L919.16,840.21 L923.88,838.31 L928.6,836.46 L933.32,834.64 L938.04,832.85 L942.76,831.06 L947.48,829.28 L952.2,827.48 L956.92,825.68 L961.64,823.87 L966.36,822.05 L971.08,820.23 L975.8,818.41"/>
<path class="cv" stroke="#666666" d="M602.9,1483.43 L607.62,1465.01 L612.34,1446.61 L617.06,1428.25 L621.78,1409.94 L626.5,1391.72 L631.22,1373.61 L635.94,1355.64 L640.66,1337.88 L645.38,1320.4 L650.1,1303.25 L654.82,1286.47 L659.54,1270.05 L664.26,1253.98 L668.98,1238.22 L673.7,1222.78 L678.42,1207.62 L683.14,1192.77 L687.86,1178.27 L692.58,1164.15 L697.31,1150.43 L702.03,1137.16 L706.75,1124.35 L711.47,1111.98 L716.19,1100 L720.91,1088.39 L725.63,1077.12 L730.35,1066.14 L735.07,1055.45 L739.79,1045.02 L744.51,1034.88 L749.23,1025.03 L753.95,1015.46 L758.67,1006.19 L763.39,997.21 L768.11,988.54 L772.83,980.16 L777.55,972.09 L782.27,964.33 L786.99,956.88 L791.71,949.73 L796.43,942.88 L801.15,936.31 L805.87,930 L810.59,923.96 L815.31,918.19 L820.03,912.68 L824.75,907.45 L829.47,902.49 L834.19,897.81 L838.91,893.4 L843.63,889.3 L848.35,885.5 L853.07,882.02 L857.79,878.83 L862.51,875.91 L867.23,873.25 L871.95,870.82 L876.67,868.62 L881.39,866.61 L886.12,864.79 L890.84,863.13 L895.56,861.64 L900.28,860.31 L905,859.16 L909.72,858.2 L914.44,857.43 L919.16,856.87 L923.88,856.52 L928.6,856.38 L933.32,856.44 L938.04,856.7 L942.76,857.13 L947.48,857.73 L952.2,858.48 L956.92,859.35 L961.64,860.33 L966.36,861.38 L971.08,862.48 L975.8,863.61"/>
<path class="cv" stroke="#C9C9C9" d="M602.9,1410.08 L607.62,1390.97 L612.34,1371.86 L617.06,1352.81 L621.78,1333.88 L626.5,1315.14 L631.22,1296.66 L635.94,1278.51 L640.66,1260.71 L645.38,1243.27 L650.1,1226.23 L654.82,1209.61 L659.54,1193.44 L664.26,1177.73 L668.98,1162.53 L673.7,1147.84 L678.42,1133.71 L683.14,1120.13 L687.86,1107.09 L692.58,1094.59 L697.31,1082.62 L702.03,1071.17 L706.75,1060.27 L711.47,1049.99 L716.19,1040.38 L720.91,1031.46 L725.63,1023.21 L730.35,1015.6 L735.07,1008.59 L739.79,1002.11 L744.51,996.09 L749.23,990.46 L753.95,985.17 L758.67,980.14 L763.39,975.32 L768.11,970.65 L772.83,966.13 L777.55,961.73 L782.27,957.47 L786.99,953.36 L791.71,949.42 L796.43,945.66 L801.15,942.1 L805.87,938.77 L810.59,935.68 L815.31,932.87 L820.03,930.38 L824.75,928.22 L829.47,926.44 L834.19,925.07 L838.91,924.15 L843.63,923.71 L848.35,923.78 L853.07,924.37 L857.79,925.5 L862.51,927.17 L867.23,929.39 L871.95,932.13 L876.67,935.38 L881.39,939.13 L886.12,943.33 L890.84,947.96 L895.56,952.96 L900.28,958.28 L905,963.85 L909.72,969.6 L914.44,975.42 L919.16,981.24 L923.88,987.01 L928.6,992.67 L933.32,998.17 L938.04,1003.5 L942.76,1008.63 L947.48,1013.57 L952.2,1018.32 L956.92,1022.92 L961.64,1027.39 L966.36,1031.78 L971.08,1036.11 L975.8,1040.41"/>
<text class="tk" x="602.9" y="1548" text-anchor="middle">8</text>
<text class="tk" x="631.58" y="1548" text-anchor="middle">9</text>
<text class="tk" x="660.27" y="1548" text-anchor="middle">10</text>
<text class="tk" x="688.95" y="1548" text-anchor="middle">11</text>
<text class="tk" x="717.64" y="1548" text-anchor="middle">12</text>
<text class="tk" x="746.32" y="1548" text-anchor="middle">13</text>
<text class="tk" x="775.01" y="1548" text-anchor="middle">14</text>
<text class="tk" x="803.69" y="1548" text-anchor="middle">15</text>
<text class="tk" x="832.38" y="1548" text-anchor="middle">16</text>
<text class="tk" x="861.06" y="1548" text-anchor="middle">17</text>
<text class="tk" x="889.75" y="1548" text-anchor="middle">18</text>
<text class="tk" x="918.43" y="1548" text-anchor="middle">19</text>
<text class="tk" x="947.12" y="1548" text-anchor="middle">20</text>
<text class="tk" x="975.8" y="1548" text-anchor="middle">21</text>
<text class="tk" x="576.4" y="892.4" text-anchor="end">0.5</text>
<text class="tk" x="576.4" y="1060.8" text-anchor="end">0.0</text>
<text class="tk" x="576.4" y="1229.2" text-anchor="end">-0.5</text>
<text class="tk" x="576.4" y="1397.6" text-anchor="end">-1.0</text>
<text class="ti" x="789.72" y="1572.4" text-anchor="middle">Age</text>
<text class="ti" transform="translate(530,1146) rotate(-90)" text-anchor="middle">z score</text>
</g>
<g id="legend">
<text class="lgb" x="1157.4" textLength="98.6" lengthAdjust="spacingAndGlyphs" y="916.5">Measure</text>
<text class="lgb" x="1531.5" textLength="63.6" lengthAdjust="spacingAndGlyphs" y="916.5">Age β</text>
<text class="lgb" font-style="italic" x="1617.5" textLength="15.7" lengthAdjust="spacingAndGlyphs" y="916.5">p</text>
<text class="lgb" x="1735.8" textLength="134.9" lengthAdjust="spacingAndGlyphs" y="916.5">Change (SD)</text>
<rect x="1118.3" y="931.8" width="23.6" height="21" fill="#8B1A1A"/>
<text class="lg" x="1157.4" textLength="125.8" lengthAdjust="spacingAndGlyphs" y="945.4">Abstraction</text>
<text class="lg" x="1546.4" textLength="48.7" lengthAdjust="spacingAndGlyphs" y="945.4">0.06</text>
<text class="lg" x="1617.6" textLength="60.6" lengthAdjust="spacingAndGlyphs" y="945.4">&lt;.001</text>
<text class="lg" x="1735.6" textLength="47.8" lengthAdjust="spacingAndGlyphs" y="945.4">0.78</text>
<rect x="1118.3" y="960.48" width="23.6" height="21" fill="#AE5F5F"/>
<text class="lg" x="1157.4" textLength="104.4" lengthAdjust="spacingAndGlyphs" y="974.3">Attention</text>
<text class="lg" x="1546.4" textLength="48.7" lengthAdjust="spacingAndGlyphs" y="974.3">0.11</text>
<text class="lg" x="1617.6" textLength="60.6" lengthAdjust="spacingAndGlyphs" y="974.3">&lt;.001</text>
<text class="lg" x="1735.6" textLength="47.8" lengthAdjust="spacingAndGlyphs" y="974.3">1.43</text>
<rect x="1118.3" y="989.16" width="23.6" height="21" fill="#D1A3A3"/>
<text class="lg" x="1157.4" textLength="190" lengthAdjust="spacingAndGlyphs" y="1003.2">Working memory</text>
<text class="lg" x="1546.4" textLength="48.7" lengthAdjust="spacingAndGlyphs" y="1003.2">0.09</text>
<text class="lg" x="1617.6" textLength="60.6" lengthAdjust="spacingAndGlyphs" y="1003.2">&lt;.001</text>
<text class="lg" x="1735.6" textLength="47.8" lengthAdjust="spacingAndGlyphs" y="1003.2">1.17</text>
<rect x="1118.3" y="1017.84" width="23.6" height="21" fill="#C58E0F"/>
<text class="lg" x="1157.4" textLength="147.7" lengthAdjust="spacingAndGlyphs" y="1032.1">Face memory</text>
<text class="lg" x="1546.4" textLength="48.7" lengthAdjust="spacingAndGlyphs" y="1032.1">0.08</text>
<text class="lg" x="1617.6" textLength="60.6" lengthAdjust="spacingAndGlyphs" y="1032.1">&lt;.001</text>
<text class="lg" x="1735.6" textLength="47.8" lengthAdjust="spacingAndGlyphs" y="1032.1">1.04</text>
<rect x="1118.3" y="1046.52" width="23.6" height="21" fill="#D6B057"/>
<text class="lg" x="1157.4" textLength="170.8" lengthAdjust="spacingAndGlyphs" y="1061">Spatial memory</text>
<text class="lg" x="1546.4" textLength="48.7" lengthAdjust="spacingAndGlyphs" y="1061">0.02</text>
<text class="lg" x="1617.6" textLength="60.6" lengthAdjust="spacingAndGlyphs" y="1061">&lt;.001</text>
<text class="lg" x="1735.6" textLength="47.8" lengthAdjust="spacingAndGlyphs" y="1061">0.26</text>
<rect x="1118.3" y="1075.2" width="23.6" height="21" fill="#E8D29F"/>
<text class="lg" x="1157.4" textLength="168.3" lengthAdjust="spacingAndGlyphs" y="1089.9">Verbal memory</text>
<text class="lg" x="1546.4" textLength="48.7" lengthAdjust="spacingAndGlyphs" y="1089.9">0.04</text>
<text class="lg" x="1617.6" textLength="60.6" lengthAdjust="spacingAndGlyphs" y="1089.9">&lt;.001</text>
<text class="lg" x="1735.6" textLength="47.8" lengthAdjust="spacingAndGlyphs" y="1089.9">0.52</text>
<rect x="1118.3" y="1103.88" width="23.6" height="21" fill="#00803E"/>
<text class="lg" x="1157.4" textLength="183.4" lengthAdjust="spacingAndGlyphs" y="1118.8">Verbal reasoning</text>
<text class="lg" x="1546.4" textLength="48.7" lengthAdjust="spacingAndGlyphs" y="1118.8">0.13</text>
<text class="lg" x="1617.6" textLength="60.6" lengthAdjust="spacingAndGlyphs" y="1118.8">&lt;.001</text>
<text class="lg" x="1735.6" textLength="47.8" lengthAdjust="spacingAndGlyphs" y="1118.8">1.69</text>
<rect x="1118.3" y="1132.56" width="23.6" height="21" fill="#4CA678"/>
<text class="lg" x="1157.4" textLength="226.2" lengthAdjust="spacingAndGlyphs" y="1147.7">Nonverbal reasoning</text>
<text class="lg" x="1546.4" textLength="48.7" lengthAdjust="spacingAndGlyphs" y="1147.7">0.09</text>
<text class="lg" x="1617.6" textLength="60.6" lengthAdjust="spacingAndGlyphs" y="1147.7">&lt;.001</text>
<text class="lg" x="1735.6" textLength="47.8" lengthAdjust="spacingAndGlyphs" y="1147.7">1.17</text>
<rect x="1118.3" y="1161.24" width="23.6" height="21" fill="#99CCB2"/>
<text class="lg" x="1157.4" textLength="185.9" lengthAdjust="spacingAndGlyphs" y="1176.6">Spatial reasoning</text>
<text class="lg" x="1546.4" textLength="48.7" lengthAdjust="spacingAndGlyphs" y="1176.6">0.10</text>
<text class="lg" x="1617.6" textLength="60.6" lengthAdjust="spacingAndGlyphs" y="1176.6">&lt;.001</text>
<text class="lg" x="1735.6" textLength="47.8" lengthAdjust="spacingAndGlyphs" y="1176.6">1.30</text>
<rect x="1118.3" y="1189.92" width="23.6" height="21" fill="#1F4CA0"/>
<text class="lg" x="1157.4" textLength="205.6" lengthAdjust="spacingAndGlyphs" y="1205.5">Age differentiation</text>
<text class="lg" x="1546.4" textLength="48.7" lengthAdjust="spacingAndGlyphs" y="1205.5">0.12</text>
<text class="lg" x="1617.6" textLength="60.6" lengthAdjust="spacingAndGlyphs" y="1205.5">&lt;.001</text>
<text class="lg" x="1735.6" textLength="47.8" lengthAdjust="spacingAndGlyphs" y="1205.5">1.56</text>
<rect x="1118.3" y="1218.6" width="23.6" height="21" fill="#6282BC"/>
<text class="lg" x="1157.4" textLength="255.1" lengthAdjust="spacingAndGlyphs" y="1234.4">Emotion differentiation</text>
<text class="lg" x="1546.4" textLength="48.7" lengthAdjust="spacingAndGlyphs" y="1234.4">0.11</text>
<text class="lg" x="1617.6" textLength="60.6" lengthAdjust="spacingAndGlyphs" y="1234.4">&lt;.001</text>
<text class="lg" x="1735.6" textLength="47.8" lengthAdjust="spacingAndGlyphs" y="1234.4">1.43</text>
<rect x="1118.3" y="1247.28" width="23.6" height="21" fill="#A5B7D9"/>
<text class="lg" x="1157.4" textLength="242.3" lengthAdjust="spacingAndGlyphs" y="1263.3">Emotion identification</text>
<text class="lg" x="1546.4" textLength="48.7" lengthAdjust="spacingAndGlyphs" y="1263.3">0.07</text>
<text class="lg" x="1617.6" textLength="60.6" lengthAdjust="spacingAndGlyphs" y="1263.3">&lt;.001</text>
<text class="lg" x="1735.6" textLength="47.8" lengthAdjust="spacingAndGlyphs" y="1263.3">0.91</text>
<rect x="1118.3" y="1275.96" width="23.6" height="21" fill="#6E0087"/>
<text class="lg" x="1157.4" textLength="140.1" lengthAdjust="spacingAndGlyphs" y="1292.2">Motor speed</text>
<text class="lg" x="1546.4" textLength="48.7" lengthAdjust="spacingAndGlyphs" y="1292.2">0.07</text>
<text class="lg" x="1617.6" textLength="60.6" lengthAdjust="spacingAndGlyphs" y="1292.2">&lt;.001</text>
<text class="lg" x="1735.6" textLength="47.8" lengthAdjust="spacingAndGlyphs" y="1292.2">0.91</text>
<rect x="1118.3" y="1304.64" width="23.6" height="21" fill="#A866B7"/>
<text class="lg" x="1157.4" textLength="218.9" lengthAdjust="spacingAndGlyphs" y="1321.1">Sensorimotor speed</text>
<text class="lg" x="1546.4" textLength="48.7" lengthAdjust="spacingAndGlyphs" y="1321.1">0.16</text>
<text class="lg" x="1617.6" textLength="60.6" lengthAdjust="spacingAndGlyphs" y="1321.1">&lt;.001</text>
<text class="lg" x="1735.6" textLength="47.8" lengthAdjust="spacingAndGlyphs" y="1321.1">2.08</text>
<rect x="1118.3" y="1333.32" width="23.6" height="21" fill="#000000"/>
<text class="lg" x="1157.4" textLength="66.7" lengthAdjust="spacingAndGlyphs" y="1350">WRAT</text>
<text class="lg" x="1546.4" textLength="48.7" lengthAdjust="spacingAndGlyphs" y="1350">0.16</text>
<text class="lg" x="1617.6" textLength="60.6" lengthAdjust="spacingAndGlyphs" y="1350">&lt;.001</text>
<text class="lg" x="1735.6" textLength="47.8" lengthAdjust="spacingAndGlyphs" y="1350">2.08</text>
<rect x="1118.3" y="1362" width="23.6" height="21" fill="#666666"/>
<text class="lg" x="1157.4" textLength="216.9" lengthAdjust="spacingAndGlyphs" y="1378.9">Composite score (g)</text>
<text class="lg" x="1546.4" textLength="48.7" lengthAdjust="spacingAndGlyphs" y="1378.9">0.16</text>
<text class="lg" x="1617.6" textLength="60.6" lengthAdjust="spacingAndGlyphs" y="1378.9">&lt;.001</text>
<text class="lg" x="1735.6" textLength="47.8" lengthAdjust="spacingAndGlyphs" y="1378.9">2.08</text>
<rect x="1118.3" y="1390.68" width="23.6" height="21" fill="#C9C9C9"/>
<text class="lg" x="1157.4" textLength="296.2" lengthAdjust="spacingAndGlyphs" y="1407.8">Speed composite score (gs)</text>
<text class="lg" x="1546.4" textLength="48.7" lengthAdjust="spacingAndGlyphs" y="1407.8">0.10</text>
<text class="lg" x="1617.6" textLength="60.6" lengthAdjust="spacingAndGlyphs" y="1407.8">&lt;.001</text>
<text class="lg" x="1735.6" textLength="47.8" lengthAdjust="spacingAndGlyphs" y="1407.8">1.30</text>
</g>
<text class="cap" y="1626.4"><tspan x="49.2" textLength="230.4" lengthAdjust="spacingAndGlyphs">Neurocognitive</tspan> <tspan x="287.9" textLength="94.1" lengthAdjust="spacingAndGlyphs">scores</tspan> <tspan x="389.8" textLength="37" lengthAdjust="spacingAndGlyphs">by</tspan> <tspan x="434.6" textLength="51.3" lengthAdjust="spacingAndGlyphs">age</tspan> <tspan x="496" textLength="42.1" lengthAdjust="spacingAndGlyphs">for</tspan> <tspan x="547.3" textLength="34.1" lengthAdjust="spacingAndGlyphs">all</tspan> <tspan x="590.5" textLength="177.1" lengthAdjust="spacingAndGlyphs">participants</tspan></text>
</svg></body></html>
